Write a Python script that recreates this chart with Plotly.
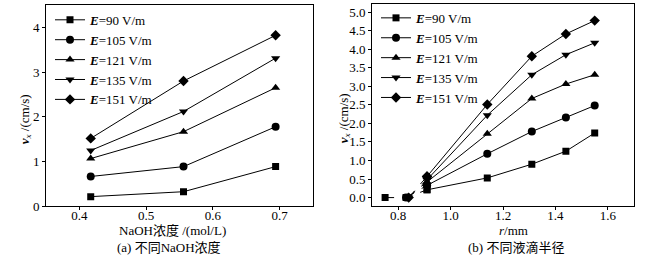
import plotly.graph_objects as go

# ---------------- data ----------------
naoh = [0.417, 0.556, 0.694]
labels = ["90", "105", "121", "135", "151"]
symbols = ["square", "circle", "triangle-up", "triangle-down", "diamond"]
sizes = [7, 8, 8, 8, 8]
v_naoh = {
    "90": [0.22, 0.33, 0.89],
    "105": [0.67, 0.89, 1.78],
    "121": [1.07, 1.67, 2.65],
    "135": [1.25, 2.12, 3.31],
    "151": [1.52, 2.80, 3.82],
}

# panel (b): dashed initial part then solid part
r_dash = {
    "90": [0.75, 0.83, 0.91],
    "105": [0.83, 0.91],
    "121": [0.835, 0.91],
    "135": [0.84, 0.91],
    "151": [0.84, 0.91],
}
v_dash = {
    "90": [0.0, 0.0, 0.21],
    "105": [0.0, 0.33],
    "121": [0.0, 0.42],
    "135": [0.0, 0.48],
    "151": [0.0, 0.57],
}
r_solid = [0.91, 1.14, 1.31, 1.44, 1.55]
v_solid = {
    "90": [0.21, 0.53, 0.90, 1.25, 1.74],
    "105": [0.33, 1.18, 1.78, 2.16, 2.48],
    "121": [0.42, 1.72, 2.67, 3.06, 3.31],
    "135": [0.48, 2.22, 3.31, 3.85, 4.17],
    "151": [0.57, 2.51, 3.81, 4.41, 4.77],
}

FONT = "Liberation Serif, Noto Sans CJK SC"
W, H = 646, 262

fig = go.Figure()

for lab, sym, sz in zip(labels, symbols, sizes):
    name = "<b><i>E</i></b>=" + lab + " V/m"
    fig.add_trace(go.Scatter(
        x=naoh, y=v_naoh[lab], mode="lines+markers", name=name,
        line=dict(color="black", width=1),
        marker=dict(symbol=sym, size=sz, color="black"),
        xaxis="x", yaxis="y", legend="legend",
    ))
    fig.add_trace(go.Scatter(
        x=r_dash[lab], y=v_dash[lab], mode="lines+markers", showlegend=False,
        line=dict(color="black", width=1, dash="dash"),
        marker=dict(symbol=sym, size=sz, color="black"),
        xaxis="x2", yaxis="y2",
    ))
    fig.add_trace(go.Scatter(
        x=r_solid, y=v_solid[lab], mode="lines+markers", name=name,
        line=dict(color="black", width=1),
        marker=dict(symbol=sym, size=sz, color="black"),
        xaxis="x2", yaxis="y2", legend="legend2",
    ))

def px_x(p):
    return p / W

def px_y(p):
    return 1 - p / H

axis_common = dict(
    showline=True, linecolor="black", linewidth=1, mirror=True,
    ticks="outside", ticklen=3, tickcolor="black", tickwidth=1,
    showgrid=False, zeroline=False,
    tickfont=dict(family=FONT, size=13, color="black"),
)

fig.update_layout(
    width=W, height=H,
    margin=dict(l=0, r=0, t=0, b=0),
    paper_bgcolor="white", plot_bgcolor="white",
    font=dict(family=FONT, size=13, color="black"),
    xaxis=dict(domain=[px_x(46), px_x(313)], range=[0.35, 0.75],
               tickvals=[0.4, 0.5, 0.6, 0.7], ticktext=["0.4", "0.5", "0.6", "0.7"],
               ticklabelstandoff=-6, anchor="y", **axis_common),
    yaxis=dict(domain=[px_y(213), px_y(5)], range=[0, 4.5],
               tickvals=[0, 1, 2, 3, 4], anchor="x", **axis_common),
    xaxis2=dict(domain=[px_x(372), px_x(634)], range=[0.7, 1.7],
                tickvals=[0.8, 1.0, 1.2, 1.4, 1.6], tickformat=".1f",
                ticklabelstandoff=-6, anchor="y2", **axis_common),
    yaxis2=dict(domain=[px_y(213), px_y(4)], range=[-0.24, 5.22],
                tickvals=[0, 0.5, 1, 1.5, 2, 2.5, 3, 3.5, 4, 4.5, 5], tickformat=".1f",
                anchor="x2", **axis_common),
    legend=dict(x=px_x(50), y=px_y(5), xanchor="left", yanchor="top",
                bgcolor="rgba(0,0,0,0)", font=dict(family=FONT, size=13),
                itemwidth=30, tracegroupgap=0),
    legend2=dict(x=px_x(376), y=px_y(3), xanchor="left", yanchor="top",
                 bgcolor="rgba(0,0,0,0)", font=dict(family=FONT, size=13),
                 itemwidth=30, tracegroupgap=0),
)

ann = dict(xref="paper", yref="paper", showarrow=False, xanchor="center", yanchor="middle",
           font=dict(family=FONT, size=13, color="black"))
fig.add_annotation(x=px_x(25), y=px_y(123), text="<b><i>v</i></b><sub><i>x</i></sub> /(cm/s)",
                   textangle=-90, **ann)
fig.add_annotation(x=px_x(344), y=px_y(122), text="<b><i>v</i></b><sub><i>x</i></sub> /(cm/s)",
                   textangle=-90, **ann)
fig.add_annotation(x=px_x(172), y=px_y(238), text="NaOH浓度 /(mol/L)", **ann)
fig.add_annotation(x=px_x(169), y=px_y(255), text="(a) 不同NaOH浓度", **ann)
fig.add_annotation(x=px_x(513), y=px_y(238), text="<i>r</i>/mm", **ann)
fig.add_annotation(x=px_x(516), y=px_y(255), text="(b) 不同液滴半径", **ann)

fig.write_html(
    "out.html", config={"displayModeBar": False},
    post_script=("document.documentElement.style.margin='0';"
                 "document.body.style.margin='0';"
                 "document.body.style.overflow='hidden';"
                 "document.documentElement.style.overflow='hidden';"),
)
